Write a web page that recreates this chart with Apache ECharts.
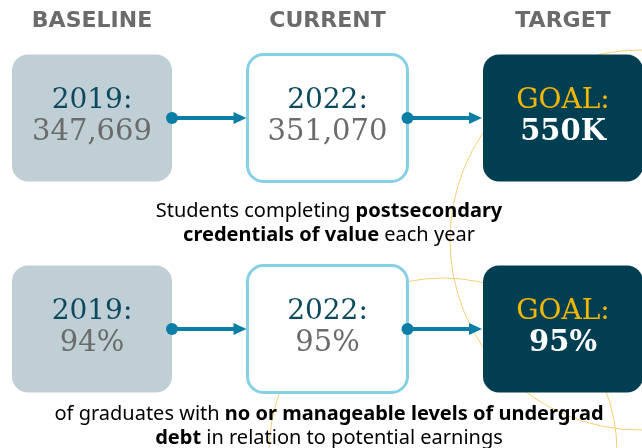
<!DOCTYPE html>
<html>
<head>
<meta charset="UTF-8">
<title>Goals</title>
<script src="https://cdn.jsdelivr.net/npm/echarts@6/dist/echarts.min.js"></script>
<style>
  html, body { margin: 0; padding: 0; background: #fff; }
  #main { width: 642px; height: 448px; }
</style>
</head>
<body>
<div id="main"></div>
<script>
// stages across the top
var stages = ['BASELINE', 'CURRENT', 'TARGET'];
// label above each value, per stage
var periodLabels = ['2019:', '2022:', 'GOAL:'];
// row 1: students completing credentials of value
var credentialValues = ['347,669', '351,070', '550K'];
// row 2: graduates with manageable debt
var debtValues = ['94%', '95%', '95%'];

var rows = [credentialValues, debtValues];

var teal = '#003f52';
var gray = '#6b6b6b';
var arrowBlue = '#0a7ea4';

var myChart = echarts.init(document.getElementById('main'));

// boxes: [stage index, row index]
var boxData = [];
var arrowData = [];
rows.forEach(function (vals, r) {
    vals.forEach(function (v, c) {
        boxData.push([c, r, periodLabels[c], v]);
        if (c < vals.length - 1) arrowData.push([c, r]);
    });
});

var BW = 160, BH = 127;

function renderBox(params, api) {
    var c = api.value(0);
    var pt = api.coord([c, api.value(1)]);
    var fill, stroke = null, lw = 0, topColor, valColor, valWeight = 'normal';
    if (c === 0) { fill = '#bfcfd5'; topColor = '#0b4a5e'; valColor = gray; }
    else if (c === 1) { fill = '#fff'; stroke = '#86d0e6'; lw = 3; topColor = '#0b4a5e'; valColor = gray; }
    else { fill = teal; topColor = '#f2b705'; valColor = '#fff'; valWeight = 'bold'; }
    return {
        type: 'group',
        children: [{
            type: 'rect',
            shape: { x: pt[0] - BW / 2, y: pt[1] - BH / 2, width: BW, height: BH, r: 16 },
            style: { fill: fill, stroke: stroke, lineWidth: lw }
        }, {
            type: 'text',
            style: {
                x: pt[0], y: pt[1] - 17, text: api.value(2),
                fill: topColor, font: '28px "DejaVu Serif"',
                align: 'center', verticalAlign: 'middle'
            }
        }, {
            type: 'text',
            style: {
                x: pt[0], y: pt[1] + 14, text: api.value(3),
                fill: valColor, font: valWeight + ' 29px "DejaVu Serif"',
                align: 'center', verticalAlign: 'middle'
            }
        }]
    };
}

function renderArrow(params, api) {
    var c = api.value(0), r = api.value(1);
    var a = api.coord([c, r]);
    var b = api.coord([c + 1, r]);
    var x0 = a[0] + BW / 2, x1 = b[0] - BW / 2 - 1, y = a[1];
    return {
        type: 'group',
        children: [{
            type: 'line',
            shape: { x1: x0, y1: y, x2: x1 - 10, y2: y },
            style: { stroke: arrowBlue, lineWidth: 4 }
        }, {
            type: 'circle',
            shape: { cx: x0, cy: y, r: 6 },
            style: { fill: arrowBlue }
        }, {
            type: 'polygon',
            shape: { points: [[x1 - 13, y - 6], [x1, y], [x1 - 13, y + 6]] },
            style: { fill: arrowBlue }
        }]
    };
}

var captionRich = {
    n: { fontFamily: 'Noto Sans', fontSize: 20, color: '#707070', lineHeight: 24 },
    b: { fontFamily: 'Noto Sans', fontSize: 20, fontWeight: 'bold', color: '#0d4a5f', lineHeight: 24 }
};

var option = {
    animation: false,
    grid: { left: 92, right: 79, top: 118, bottom: 119 },
    xAxis: {
        type: 'value', min: 0, max: 2, interval: 1, position: 'top',
        axisLine: { show: false }, axisTick: { show: false }, splitLine: { show: false },
        axisLabel: {
            margin: 86,
            formatter: function (v) { return stages[v] || ''; },
            fontFamily: 'DejaVu Sans', fontWeight: 'bold', fontSize: 22, color: gray,
            alignMinLabel: 'center', alignMaxLabel: 'center'
        }
    },
    yAxis: { type: 'value', min: 0, max: 1, inverse: true, show: false },
    graphic: [
        { type: 'circle', z: -1, silent: true, shape: { cx: 640, cy: 240, r: 190 },
          style: { fill: 'none', stroke: '#f5cf74', lineWidth: 1 } },
        { type: 'circle', z: -1, silent: true, shape: { cx: 443, cy: 452, r: 174 },
          style: { fill: 'none', stroke: '#f5cf74', lineWidth: 1 } },
        { type: 'text', z: 5,
          style: {
              x: 329, y: 199,
              text: '{n|Students completing }{b|postsecondary}\n{b|credentials of value}{n| each year}',
              rich: captionRich, align: 'center', verticalAlign: 'top'
          } },
        { type: 'text', z: 5,
          style: {
              x: 329, y: 402,
              text: '{n|of graduates with }{b|no or manageable levels of undergrad}\n{b|debt}{n| in relation to potential earnings}',
              rich: captionRich, align: 'center', verticalAlign: 'top'
          } }
    ],
    series: [{
        type: 'custom',
        coordinateSystem: 'cartesian2d',
        renderItem: renderArrow,
        data: arrowData,
        z: 3
    }, {
        type: 'custom',
        coordinateSystem: 'cartesian2d',
        renderItem: renderBox,
        data: boxData,
        encode: { x: 0, y: 1 },
        z: 2
    }]
};

myChart.setOption(option);
</script>
</body>
</html>
